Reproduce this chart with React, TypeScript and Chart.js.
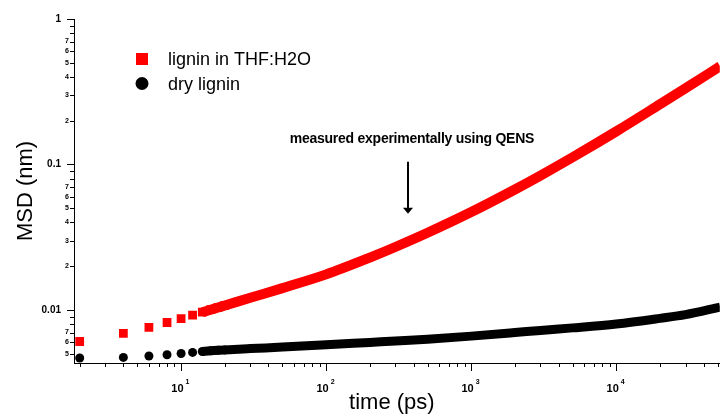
import React, { useEffect, useRef } from "react";
import { Chart, registerables } from "chart.js";

Chart.register(...registerables);

// ---- data ----
const timesPs = [2, 4, 6, 8, 10, 12, 14, 16, 18, 20, 30, 50, 100, 200, 300, 500, 1000, 2000, 3000, 5000, 10000, 20000, 30000, 52000];
const msdWet = [0.006074, 0.006918, 0.007604, 0.008205, 0.008728, 0.009225, 0.009658, 0.010048, 0.010404, 0.010738, 0.012133, 0.014137, 0.017566, 0.022914, 0.027101, 0.033927, 0.047095, 0.067313, 0.083893, 0.11207, 0.16885, 0.25928, 0.3342, 0.47306];
const msdDry = [0.004678, 0.004723, 0.004828, 0.004929, 0.005023, 0.005111, 0.005185, 0.005243, 0.005285, 0.005319, 0.005429, 0.005559, 0.005765, 0.005989, 0.006123, 0.0063, 0.006612, 0.006994, 0.007241, 0.007534, 0.008013, 0.008757, 0.009284, 0.010469];
const seriesLabels = ["lignin in THF:H2O", "dry lignin"];
const seriesColors = ["#ff0000", "#000000"];

const xRange = [1.827, 51700];
const yRange = [0.004322, 1];

const xMajorTicks = [10, 100, 1000, 10000];
const xMajorBase = "10";
const xMajorExponents = ["1", "2", "3", "4"];
const xMinorTicks = [2, 3, 4, 5, 6, 7, 8, 9, 20, 30, 40, 50, 60, 70, 80, 90, 200, 300, 400, 500, 600, 700, 800, 900, 2000, 3000, 4000, 5000, 6000, 7000, 8000, 9000, 20000, 30000, 40000, 50000];

const yMajorTicks = [1, 0.1, 0.01];
const yMajorLabels = ["1", "0.1", "0.01"];
const yMinorTicks = [0.9, 0.8, 0.7, 0.6, 0.5, 0.4, 0.3, 0.2, 0.09, 0.08, 0.07, 0.06, 0.05, 0.04, 0.03, 0.02, 0.009, 0.008, 0.007, 0.006, 0.005];
const yMinorLabels = ["", "", "7", "6", "5", "4", "3", "2", "", "", "7", "6", "5", "4", "3", "2", "", "", "7", "6", "5"];

const xTitle = "time (ps)";
const yTitle = "MSD (nm)";

const noteText = "measured experimentally using QENS";
const noteTime = 390;
const noteMSD = 0.1405;
const arrowTime = 365;
const arrowTopMSD = 0.1045;
const arrowTipMSD = 0.0458;

const separateUntil = 20; // markers drawn one by one up to this time
const bandFrom = 14; // overlapping markers form a band from this time

const FONT = '"Liberation Sans", Arial, sans-serif';

const decoPlugin = {
  id: "deco",
  afterDraw(chart: any) {
    const { ctx, chartArea: a } = chart;
    const x = chart.scales.x;
    const y = chart.scales.y;
    ctx.save();
    ctx.strokeStyle = "#000";
    ctx.fillStyle = "#000";
    ctx.lineWidth = 1;

    // y ticks
    ctx.beginPath();
    yMajorTicks.forEach((v) => {
      const py = Math.round(y.getPixelForValue(v)) + 0.5;
      ctx.moveTo(a.left - 7, py);
      ctx.lineTo(a.left, py);
    });
    yMinorTicks.forEach((v) => {
      const py = Math.round(y.getPixelForValue(v)) + 0.5;
      ctx.moveTo(a.left - 4, py);
      ctx.lineTo(a.left, py);
    });
    // x ticks
    xMajorTicks.forEach((v) => {
      const px = Math.round(x.getPixelForValue(v)) + 0.5;
      ctx.moveTo(px, a.bottom);
      ctx.lineTo(px, a.bottom + 8);
    });
    xMinorTicks.forEach((v) => {
      const px = Math.round(x.getPixelForValue(v)) + 0.5;
      ctx.moveTo(px, a.bottom);
      ctx.lineTo(px, a.bottom + 4);
    });
    ctx.stroke();

    // y labels
    ctx.textBaseline = "middle";
    ctx.textAlign = "right";
    ctx.font = `bold 10px ${FONT}`;
    yMajorTicks.forEach((v, i) => {
      ctx.fillText(yMajorLabels[i], a.left - 13, y.getPixelForValue(v));
    });
    ctx.font = `bold 7px ${FONT}`;
    yMinorTicks.forEach((v, i) => {
      if (yMinorLabels[i]) ctx.fillText(yMinorLabels[i], a.left - 5, y.getPixelForValue(v));
    });

    // x labels (10 with superscript exponent)
    ctx.textBaseline = "alphabetic";
    xMajorTicks.forEach((v, i) => {
      const px = x.getPixelForValue(v);
      ctx.textAlign = "right";
      ctx.font = `bold 11px ${FONT}`;
      ctx.fillText(xMajorBase, px + 2.5, a.bottom + 29);
      ctx.textAlign = "left";
      ctx.font = `bold 7px ${FONT}`;
      ctx.fillText(xMajorExponents[i], px + 4.5, a.bottom + 21);
    });

    // axis titles
    ctx.font = `22px ${FONT}`;
    ctx.textAlign = "center";
    ctx.fillText(xTitle, (a.left + a.right) / 2 - 5, a.bottom + 46);
    ctx.save();
    ctx.translate(32, (a.top + a.bottom) / 2);
    ctx.rotate(-Math.PI / 2);
    ctx.fillText(yTitle, 0, 0);
    ctx.restore();

    // legend
    const lx = a.left + 68;
    ctx.fillStyle = seriesColors[0];
    ctx.fillRect(lx - 6, 53, 12, 12);
    ctx.fillStyle = seriesColors[1];
    ctx.beginPath();
    ctx.arc(lx, 83.5, 6.5, 0, Math.PI * 2);
    ctx.fill();
    ctx.fillStyle = "#000";
    ctx.font = `18px ${FONT}`;
    ctx.textAlign = "left";
    ctx.fillText(seriesLabels[0], lx + 26, 65);
    ctx.fillText(seriesLabels[1], lx + 26, 89.5);

    // annotation
    ctx.font = `bold 14px ${FONT}`;
    (ctx as any).letterSpacing = "-0.25px";
    ctx.textAlign = "center";
    ctx.fillText(noteText, x.getPixelForValue(noteTime), y.getPixelForValue(noteMSD));
    (ctx as any).letterSpacing = "0px";
    const ax = Math.round(x.getPixelForValue(arrowTime));
    const aTop = y.getPixelForValue(arrowTopMSD);
    const aTip = y.getPixelForValue(arrowTipMSD);
    ctx.lineWidth = 2;
    ctx.beginPath();
    ctx.moveTo(ax, aTop);
    ctx.lineTo(ax, aTip - 5);
    ctx.stroke();
    ctx.beginPath();
    ctx.moveTo(ax - 5, aTip - 6);
    ctx.lineTo(ax + 5, aTip - 6);
    ctx.lineTo(ax, aTip);
    ctx.closePath();
    ctx.fill();

    ctx.restore();
  },
};

export default function App() {
  const canvasRef = useRef<HTMLCanvasElement | null>(null);

  useEffect(() => {
    document.body.style.margin = "0";
    const canvas = canvasRef.current;
    if (!canvas) return;
    const makeData = (vals: number[]) => timesPs.map((t, i) => ({ x: t, y: vals[i] }));
    const segStyle = (color: string) => ({
      borderColor: (c: any) => (c.p0.parsed.x < bandFrom ? "rgba(0,0,0,0)" : color),
    });
    const chart = new Chart(canvas, {
      type: "scatter",
      data: {
        datasets: [
          {
            label: seriesLabels[1],
            data: makeData(msdDry),
            showLine: true,
            borderColor: seriesColors[1],
            backgroundColor: seriesColors[1],
            borderWidth: 9,
            cubicInterpolationMode: "monotone",
            borderJoinStyle: "round",
            pointStyle: "circle",
            pointRadius: (c: any) => (c.raw && c.raw.x <= separateUntil ? 4.5 : 0),
            pointBorderWidth: 0,
            segment: segStyle(seriesColors[1]),
            clip: 0,
          } as any,
          {
            label: seriesLabels[0],
            data: makeData(msdWet),
            showLine: true,
            borderColor: seriesColors[0],
            backgroundColor: seriesColors[0],
            borderWidth: 10,
            cubicInterpolationMode: "monotone",
            borderJoinStyle: "round",
            pointStyle: "rect",
            pointRadius: (c: any) => (c.raw && c.raw.x <= separateUntil ? 6.2 : 0),
            pointBorderWidth: 0,
            segment: segStyle(seriesColors[0]),
            clip: 0,
          } as any,
        ],
      },
      options: {
        animation: false,
        responsive: false,
        events: [],
        layout: { padding: { top: 19, right: 2, left: 0, bottom: 0 } },
        plugins: { legend: { display: false }, tooltip: { enabled: false }, title: { display: false } },
        scales: {
          x: {
            type: "logarithmic",
            min: xRange[0],
            max: xRange[1],
            grid: { display: false },
            border: { display: true, color: "#000", width: 1 },
            ticks: { display: false },
            afterFit: (s: any) => {
              s.height = 53;
            },
          },
          y: {
            type: "logarithmic",
            min: yRange[0],
            max: yRange[1],
            grid: { display: false },
            border: { display: true, color: "#000", width: 1 },
            ticks: { display: false },
            afterFit: (s: any) => {
              s.width = 74;
            },
          },
        },
      } as any,
      plugins: [decoPlugin],
    });
    return () => chart.destroy();
  }, []);

  return (
    <div style={{ width: 726, height: 416, background: "#fff" }}>
      <canvas ref={canvasRef} width={726} height={416} />
    </div>
  );
}
